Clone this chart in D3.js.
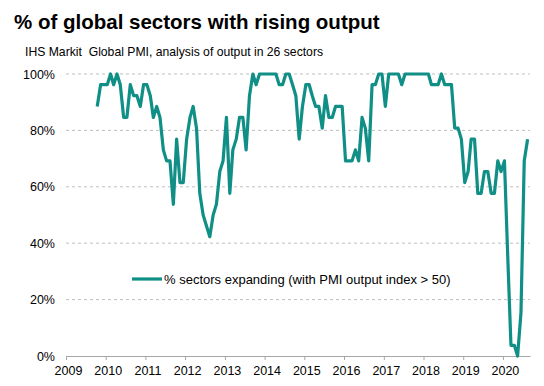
<!DOCTYPE html>
<html lang="en">
<head>
  <meta charset="UTF-8" />
  <title>% of global sectors with rising output</title>
  <style>
    body {
      margin: 0;
      background: #fff;
      font-family: "Liberation Sans", Arial, sans-serif;
    }
    .grid line {
      stroke: #bfbfbf;
      stroke-dasharray: 3,3;
    }
  </style>
</head>
<body>
  <div id="chart"></div>
  <script src="https://d3js.org/d3.v7.min.js"></script>
  <script>
    // monthly share of 26 sectors with output index > 50, Oct 2009 - Aug 2020
    var startMonth = [2009, 9]; // year, month index (0 = Jan)
    var pctExpanding = [
      88.5, 96.2, 96.2, 96.2, 100, 96.2, 100, 96.2, 84.6, 84.6,
      96.2, 92.3, 92.3, 88.5, 96.2, 96.2, 92.3, 84.6, 88.5, 84.6,
      73.1, 69.2, 69.2, 53.8, 76.9, 61.5, 61.5, 76.9, 84.6, 88.5,
      80.8, 57.7, 50.0, 46.2, 42.3, 50.0, 53.8, 65.4, 69.2, 84.6,
      57.7, 73.1, 76.9, 84.6, 84.6, 73.1, 92.3, 100, 96.2, 100,
      100, 100, 100, 100, 100, 96.2, 96.2, 100, 100, 96.2,
      92.3, 76.9, 88.5, 96.2, 96.2, 92.3, 88.5, 88.5, 80.8, 92.3,
      84.6, 84.6, 88.5, 88.5, 88.5, 69.2, 69.2, 69.2, 73.1, 69.2,
      84.6, 80.8, 69.2, 96.2, 96.2, 100, 100, 88.5, 100, 100,
      100, 100, 96.2, 100, 100, 100, 100, 100, 100, 100,
      100, 96.2, 96.2, 96.2, 100, 96.2, 96.2, 96.2, 80.8, 80.8,
      76.9, 61.5, 65.4, 76.9, 76.9, 57.7, 57.7, 65.4, 65.4, 57.7,
      57.7, 69.2, 65.4, 69.2, 34.6, 3.8, 3.8, 0, 15.4, 69.2,
      76.9
    ];
    var yearTicks = [2009, 2010, 2011, 2012, 2013, 2014, 2015, 2016, 2017, 2018, 2019, 2020];
    var pctTicks = [0, 20, 40, 60, 80, 100];

    var data = pctExpanding.map(function(v, i) {
      return { date: new Date(startMonth[0], startMonth[1] + i, 15), value: v };
    });

    var W = 544, H = 386;
    var svg = d3.select("#chart")
      .append("svg")
      .attr("width", W)
      .attr("height", H);

    var x = d3.scaleTime()
      .domain([new Date(2009, 0, 1), new Date(2020, 8, 6)])
      .range([66, 530]);

    var y = d3.scaleLinear()
      .domain([0, 100])
      .range([356, 74]);

    // title + subtitle
    svg.append("text")
      .attr("x", 14)
      .attr("y", 29)
      .attr("font-size", "20.5px")
      .attr("font-weight", "bold")
      .attr("fill", "#000")
      .text("% of global sectors with rising output");

    svg.append("text")
      .attr("x", 25)
      .attr("y", 56)
      .attr("font-size", "12.2px")
      .attr("fill", "#000")
      .text("IHS Markit\u00a0 Global PMI, analysis of output in 26 sectors");

    // dashed gridlines
    svg.append("g")
      .attr("class", "grid")
      .selectAll("line")
      .data(pctTicks.filter(function(d) { return d > 0; }))
      .enter()
      .append("line")
      .attr("x1", 66)
      .attr("x2", 530)
      .attr("y1", function(d) { return y(d); })
      .attr("y2", function(d) { return y(d); });

    // y labels
    var yAxis = svg.append("g")
      .attr("transform", "translate(66,0)")
      .call(d3.axisLeft(y)
        .tickValues(pctTicks)
        .tickSize(0)
        .tickPadding(11)
        .tickFormat(function(d) { return d + "%"; }));
    yAxis.select(".domain").remove();
    yAxis.selectAll("text")
      .attr("font-size", "12.5px")
      .attr("font-family", "Liberation Sans, Arial, sans-serif")
      .attr("fill", "#000");

    // x axis
    var xAxis = svg.append("g")
      .attr("transform", "translate(0,356)")
      .call(d3.axisBottom(x)
        .tickValues(yearTicks.map(function(yr) { return new Date(yr, 0, 1); }))
        .tickSize(4)
        .tickSizeOuter(0)
        .tickPadding(6)
        .tickFormat(d3.timeFormat("%Y")));
    xAxis.select(".domain").attr("stroke", "#a6a6a6");
    xAxis.selectAll(".tick line").attr("stroke", "#a6a6a6");
    xAxis.selectAll("text")
      .attr("font-size", "12.5px")
      .attr("font-family", "Liberation Sans, Arial, sans-serif")
      .attr("fill", "#000")
      .attr("dx", "2");

    // series line
    var line = d3.line()
      .x(function(d) { return x(d.date); })
      .y(function(d) { return y(d.value); });

    svg.append("path")
      .datum(data)
      .attr("fill", "none")
      .attr("stroke", "#0f8f86")
      .attr("stroke-width", 3.2)
      .attr("stroke-linejoin", "round")
      .attr("d", line);

    // legend
    var lg = svg.append("g").attr("transform", "translate(132,279)");
    lg.append("line")
      .attr("x1", 0).attr("x2", 30)
      .attr("y1", 0).attr("y2", 0)
      .attr("stroke", "#0f8f86")
      .attr("stroke-width", 3.2);
    lg.append("text")
      .attr("x", 32)
      .attr("y", 4.5)
      .attr("font-size", "13px")
      .attr("fill", "#000")
      .text("% sectors expanding (with PMI output index > 50)");
  </script>
</body>
</html>
